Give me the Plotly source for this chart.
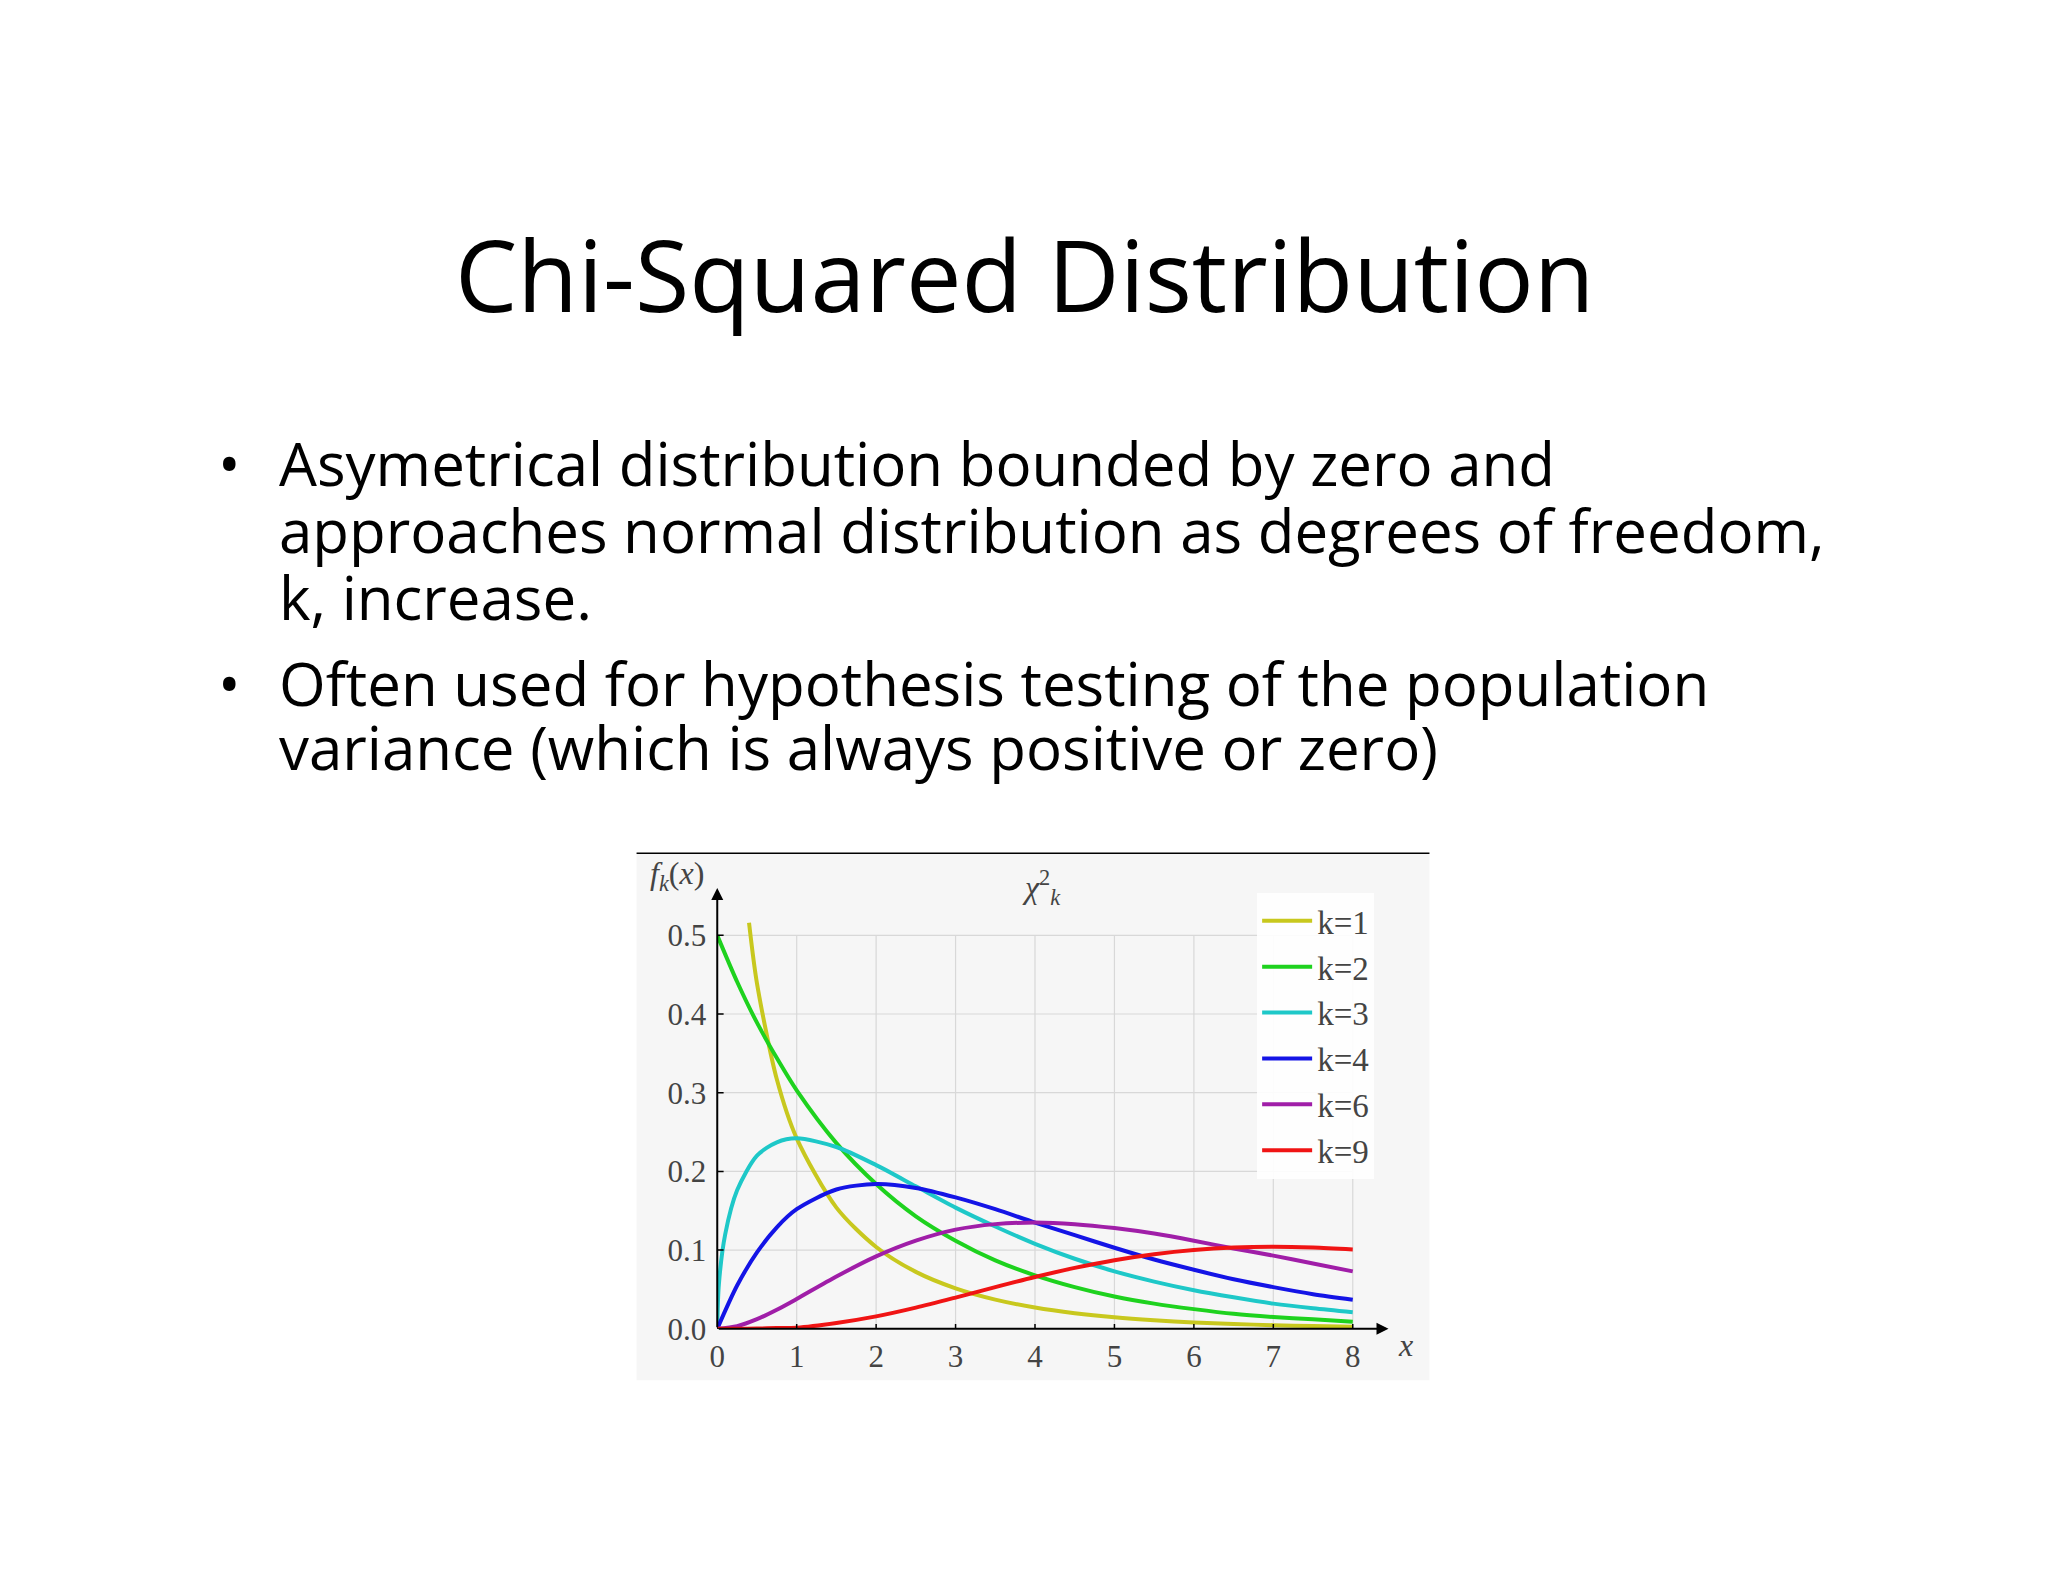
import plotly.graph_objects as go

W, H = 2048, 1582
series_names = ["k=1", "k=2", "k=3", "k=4", "k=6", "k=9"]
colors = ["#c8c81e", "#1ed21e", "#1ec8c8", "#1414e6", "#a01ea8", "#f01414"]
x_k1 = [0.4, 0.5, 0.75, 1, 1.5, 2, 2.5, 3, 3.5, 4, 4.5, 5, 5.5, 6, 6.5, 7, 7.5, 8]
y_k1 = [0.516, 0.439, 0.317, 0.242, 0.154, 0.104, 0.0723, 0.0514, 0.0371, 0.0270, 0.0198, 0.0146, 0.0109, 0.0081, 0.0061, 0.0046, 0.0034, 0.0026]
x_std = [0, 0.25, 0.5, 0.75, 1, 1.5, 2, 2.5, 3, 3.5, 4, 4.5, 5, 5.5, 6, 6.5, 7, 7.5, 8]
y_k2 = [0.5, 0.441, 0.389, 0.344, 0.303, 0.236, 0.184, 0.143, 0.112, 0.087, 0.068, 0.053, 0.041, 0.032, 0.025, 0.019, 0.015, 0.012, 0.009]
x_k3 = [0, 0.02, 0.1, 0.25, 0.5, 0.75, 1, 1.5, 2, 2.5, 3, 3.5, 4, 4.5, 5, 5.5, 6, 6.5, 7, 7.5, 8]
y_k3 = [0, 0.056, 0.120, 0.176, 0.220, 0.237, 0.242, 0.231, 0.208, 0.181, 0.154, 0.130, 0.108, 0.089, 0.073, 0.060, 0.049, 0.040, 0.032, 0.026, 0.021]
y_k4 = [0, 0.055, 0.097, 0.129, 0.152, 0.177, 0.184, 0.179, 0.167, 0.152, 0.135, 0.119, 0.103, 0.088, 0.075, 0.063, 0.053, 0.044, 0.037]
y_k6 = [0, 0.0034, 0.0122, 0.0242, 0.0379, 0.0664, 0.092, 0.112, 0.126, 0.133, 0.135, 0.133, 0.128, 0.121, 0.112, 0.102, 0.093, 0.083, 0.073]
y_k9 = [0, 0.00003, 0.00026, 0.00095, 0.0014, 0.0074, 0.0158, 0.0269, 0.0397, 0.0530, 0.0658, 0.0774, 0.0872, 0.0948, 0.1001, 0.1032, 0.1042, 0.1032, 0.1008]
xs = [x_k1, x_std, x_k3, x_std, x_std, x_std]
ys = [y_k1, y_k2, y_k3, y_k4, y_k6, y_k9]
x_ticks = [0, 1, 2, 3, 4, 5, 6, 7, 8]
y_ticks = [0.0, 0.1, 0.2, 0.3, 0.4, 0.5]

fig = go.Figure()
for n, c, x, y in zip(series_names, colors, xs, ys):
    fig.add_trace(go.Scatter(x=x, y=y, mode="lines", name=n,
                             line=dict(color=c, width=4, shape="spline", smoothing=0.8)))

DX = -16
x0px, ux = 720 + DX, 79.75
y0px, uy = 1336, 796
xr = [0, 8.6]
yr = [0, 0.57]
xdom = [x0px / W, (x0px + xr[1] * ux) / W]
ydom = [1 - y0px / H, 1 - (y0px - yr[1] * uy) / H]
serif = "Liberation Serif"

fig.update_layout(
    width=W, height=H, margin=dict(l=0, r=0, t=0, b=0),
    paper_bgcolor="white", plot_bgcolor="rgba(0,0,0,0)",
    font=dict(family="Open Sans", color="black"),
    showlegend=True,
    legend=dict(x=(1262 + DX) / W, y=1 - 895 / H, xanchor="left", yanchor="top",
                bgcolor="rgba(255,255,255,0.9)", font=dict(family=serif, size=33, color="#444"),
                tracegroupgap=0, itemwidth=50),
    xaxis=dict(domain=xdom, range=xr, tickvals=x_ticks, ticktext=[str(t) for t in x_ticks],
               showgrid=False, zeroline=False, showline=False, ticks="", ticklabelstandoff=6,
               tickfont=dict(family=serif, size=31, color="#444")),
    yaxis=dict(domain=ydom, range=yr, tickvals=y_ticks, ticktext=["%.1f" % t for t in y_ticks],
               showgrid=False, zeroline=False, showline=False, ticks="", ticklabelstandoff=10,
               tickfont=dict(family=serif, size=31, color="#444")),
)
shapes = [dict(type="rect", xref="paper", yref="paper", x0=(639 + DX) / W, x1=(1435 + DX) / W,
               y0=1 - 1388 / H, y1=1 - 855 / H, fillcolor="#f6f6f6", line_width=0, layer="below"),
          dict(type="line", xref="paper", yref="paper", x0=(639 + DX) / W, x1=(1435 + DX) / W,
               y0=1 - 855 / H, y1=1 - 855 / H, line=dict(color="black", width=1.5))]
for t in x_ticks[1:]:
    shapes.append(dict(type="line", x0=t, x1=t, y0=0, y1=0.5, line=dict(color="#d8d8d8", width=1.2), layer="below"))
for t in y_ticks[1:]:
    shapes.append(dict(type="line", x0=0, x1=8, y0=t, y1=t, line=dict(color="#d8d8d8", width=1.2), layer="below"))
for t in x_ticks:
    shapes.append(dict(type="line", x0=t, x1=t, y0=-0.006, y1=0.006, line=dict(color="black", width=1.5)))
for t in y_ticks:
    shapes.append(dict(type="line", x0=-0.08, x1=0.08, y0=t, y1=t, line=dict(color="black", width=1.5)))
fig.update_layout(shapes=shapes)

def txt(t, x, y, size, family=serif, color="#444", xanchor="center"):
    return dict(x=x / W, y=1 - y / H, xref="paper", yref="paper", showarrow=False,
                xanchor=xanchor, yanchor="middle", text=t, font=dict(family=family, size=size, color=color))

ann = [
    dict(x=8.45, y=0, ax=0, ay=0, axref="x", ayref="y", xref="x", yref="y", showarrow=True,
         arrowhead=2, arrowsize=1.2, arrowwidth=2, arrowcolor="black", text=""),
    dict(x=0, y=0.56, ax=0, ay=0, axref="x", ayref="y", xref="x", yref="y", showarrow=True,
         arrowhead=2, arrowsize=1.2, arrowwidth=2, arrowcolor="black", text=""),
    txt("<i>f<sub>k</sub></i>(<i>x</i>)", 680 + DX, 877, 32),
    txt("<i>χ</i><sup>2</sup><sub><i>k</i></sub>", 1046 + DX, 890, 32),
    txt("<i>x</i>", 1411 + DX, 1352, 32),
    txt("Chi-Squared Distribution", 1028 + DX, 269, 99, family="Open Sans", color="black"),
]
lines = [("•", 217, 460), ("Asymetrical distribution bounded by zero and", 278, 460),
         ("approaches normal distribution as degrees of freedom,", 278, 528),
         ("k, increase.", 278, 596),
         ("•", 217, 683), ("Often used for hypothesis testing of the population", 278, 683),
         ("variance (which is always positive or zero)", 278, 748)]
for t, x, y in lines:
    ann.append(txt(t, x + DX, y, 60, family="Open Sans", color="black", xanchor="left"))
fig.update_layout(annotations=ann)
fig.write_html("out.html")
